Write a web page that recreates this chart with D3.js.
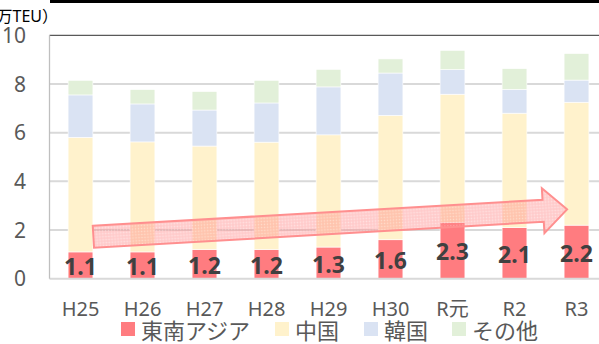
<!DOCTYPE html>
<html>
<head>
<meta charset="utf-8">
<script src="https://cdn.jsdelivr.net/npm/d3@7/dist/d3.min.js"></script>
<style>
  html, body { margin: 0; padding: 0; background: #fff; }
  svg { display: block; }
  text { font-family: "Noto Sans", "Noto Sans CJK JP", sans-serif; }
</style>
</head>
<body>
<svg id="chart" width="599" height="344"></svg>
<script>
// Fiscal years
const years = ["H25", "H26", "H27", "H28", "H29", "H30", "R元", "R2", "R3"];
// Container volume by region (万TEU)
const seAsia = [1.1, 1.1, 1.2, 1.2, 1.3, 1.6, 2.3, 2.1, 2.2];
const china  = [4.71, 4.52, 4.25, 4.41, 4.61, 5.11, 5.28, 4.70, 5.05];
const korea  = [1.74, 1.56, 1.48, 1.61, 1.97, 1.74, 1.01, 0.98, 0.91];
const other  = [0.60, 0.59, 0.76, 0.93, 0.72, 0.58, 0.79, 0.85, 1.09];
const yTicks = [0, 2, 4, 6, 8, 10];
const seriesNames = ["東南アジア", "中国", "韓国", "その他"];
const colors = ["#FF7C80", "#FFF2CC", "#DAE3F3", "#E2F0D9"];

const svg = d3.select("#chart");
const textColor = "#595959";

const x = d3.scaleBand().domain(years).range([49.5, 607.5]).paddingInner(0.6).paddingOuter(0.3);
const y = d3.scaleLinear().domain([0, 10]).range([278.7, 35.3]);

// header rule
svg.append("rect").attr("x", 50).attr("y", 0).attr("width", 549).attr("height", 3).attr("fill", "#000");

// gridlines
svg.append("g").selectAll("line").data(yTicks.filter(d => d > 0 && d < 10)).join("line")
  .attr("x1", 49.5).attr("x2", 599)
  .attr("y1", d => y(d)).attr("y2", d => y(d))
  .attr("stroke", "#D9D9D9").attr("stroke-width", 2);
svg.append("line").attr("x1", 49.5).attr("x2", 599).attr("y1", y(10)).attr("y2", y(10))
  .attr("stroke", "#595959").attr("stroke-width", 1.3);

// stacked bars
const table = years.map((yr, i) => ({ year: yr, s0: seAsia[i], s1: china[i], s2: korea[i], s3: other[i] }));
const stack = d3.stack().keys(["s0", "s1", "s2", "s3"])(table);
svg.append("g").selectAll("g").data(stack).join("g")
  .attr("fill", (d, i) => colors[i])
  .selectAll("rect").data(d => d).join("rect")
  .attr("x", d => x(d.data.year))
  .attr("width", x.bandwidth())
  .attr("y", d => y(d[1]))
  .attr("height", d => y(d[0]) - y(d[1]))
  .attr("stroke", "#fff").attr("stroke-width", 0.6);

// axes lines
svg.append("line").attr("x1", 49.5).attr("x2", 599).attr("y1", y(0)).attr("y2", y(0))
  .attr("stroke", "#D9D9D9").attr("stroke-width", 2);
svg.append("line").attr("x1", 49.5).attr("x2", 49.5).attr("y1", y(10)).attr("y2", y(0))
  .attr("stroke", "#BFBFBF").attr("stroke-width", 1.3);

// y tick labels
svg.append("g").selectAll("text").data(yTicks).join("text")
  .attr("x", 26).attr("y", d => y(d)).attr("dy", "0.36em")
  .attr("text-anchor", "end").attr("font-size", 21).attr("fill", textColor)
  .text(d => d);

// unit label
svg.append("text").attr("x", 58).attr("y", 22).attr("text-anchor", "end")
  .attr("font-size", 16).attr("fill", "#000").text("（万TEU）");

// x labels
svg.append("g").selectAll("text").data(years).join("text")
  .attr("x", d => x(d) + x.bandwidth() / 2).attr("y", 316)
  .attr("text-anchor", "middle").attr("font-size", 20).attr("fill", textColor)
  .text(d => d);

// trend arrow
const defs = svg.append("defs");
const pat = defs.append("pattern").attr("id", "dots").attr("patternUnits", "userSpaceOnUse")
  .attr("width", 3).attr("height", 3);
pat.append("rect").attr("width", 3).attr("height", 3).attr("fill", "rgba(255,140,140,0.40)");
pat.append("rect").attr("width", 1).attr("height", 1).attr("fill", "rgba(255,255,255,0.35)");
pat.append("rect").attr("x", 1.5).attr("y", 1.5).attr("width", 1).attr("height", 1).attr("fill", "rgba(255,120,120,0.25)");

const x0 = x("H25") + x.bandwidth() + 0.5, y0 = y(1.72);
const x1 = x("R3") + 3, y1 = y(2.85);
const len = Math.hypot(x1 - x0, y1 - y0);
const ang = Math.atan2(y1 - y0, x1 - x0) * 180 / Math.PI;
const sw = 11, hw = 22.5, hl = 24;
const arrowPts = [[0, -sw], [len - hl, -sw], [len - hl, -hw], [len, 0], [len - hl, hw], [len - hl, sw], [0, sw]];
svg.append("path")
  .attr("transform", `translate(${x0},${y0}) rotate(${ang})`)
  .attr("d", d3.line()(arrowPts) + "Z")
  .attr("fill", "url(#dots)")
  .attr("stroke", "#FF8F8F").attr("stroke-width", 2).attr("stroke-linejoin", "miter");

// value labels on the 東南アジア segment
svg.append("g").selectAll("text").data(stack[0]).join("text")
  .attr("x", d => x(d.data.year) + x.bandwidth() / 2)
  .attr("y", d => (y(d[0]) + y(d[1])) / 2 + 1.5).attr("dy", "0.36em")
  .attr("text-anchor", "middle").attr("font-size", 23).attr("font-weight", "bold")
  .attr("fill", "#404040")
  .text(d => d.data.s0.toFixed(1));

// legend
const legX = [121, 275, 364, 452];
const leg = svg.append("g").selectAll("g").data(seriesNames).join("g");
leg.append("rect").attr("x", (d, i) => legX[i]).attr("y", 322).attr("width", 14).attr("height", 14)
  .attr("fill", (d, i) => colors[i]);
leg.append("text").attr("x", (d, i) => legX[i] + 20).attr("y", 339)
  .attr("font-size", 22).attr("fill", textColor).text(d => d);
</script>
</body>
</html>
